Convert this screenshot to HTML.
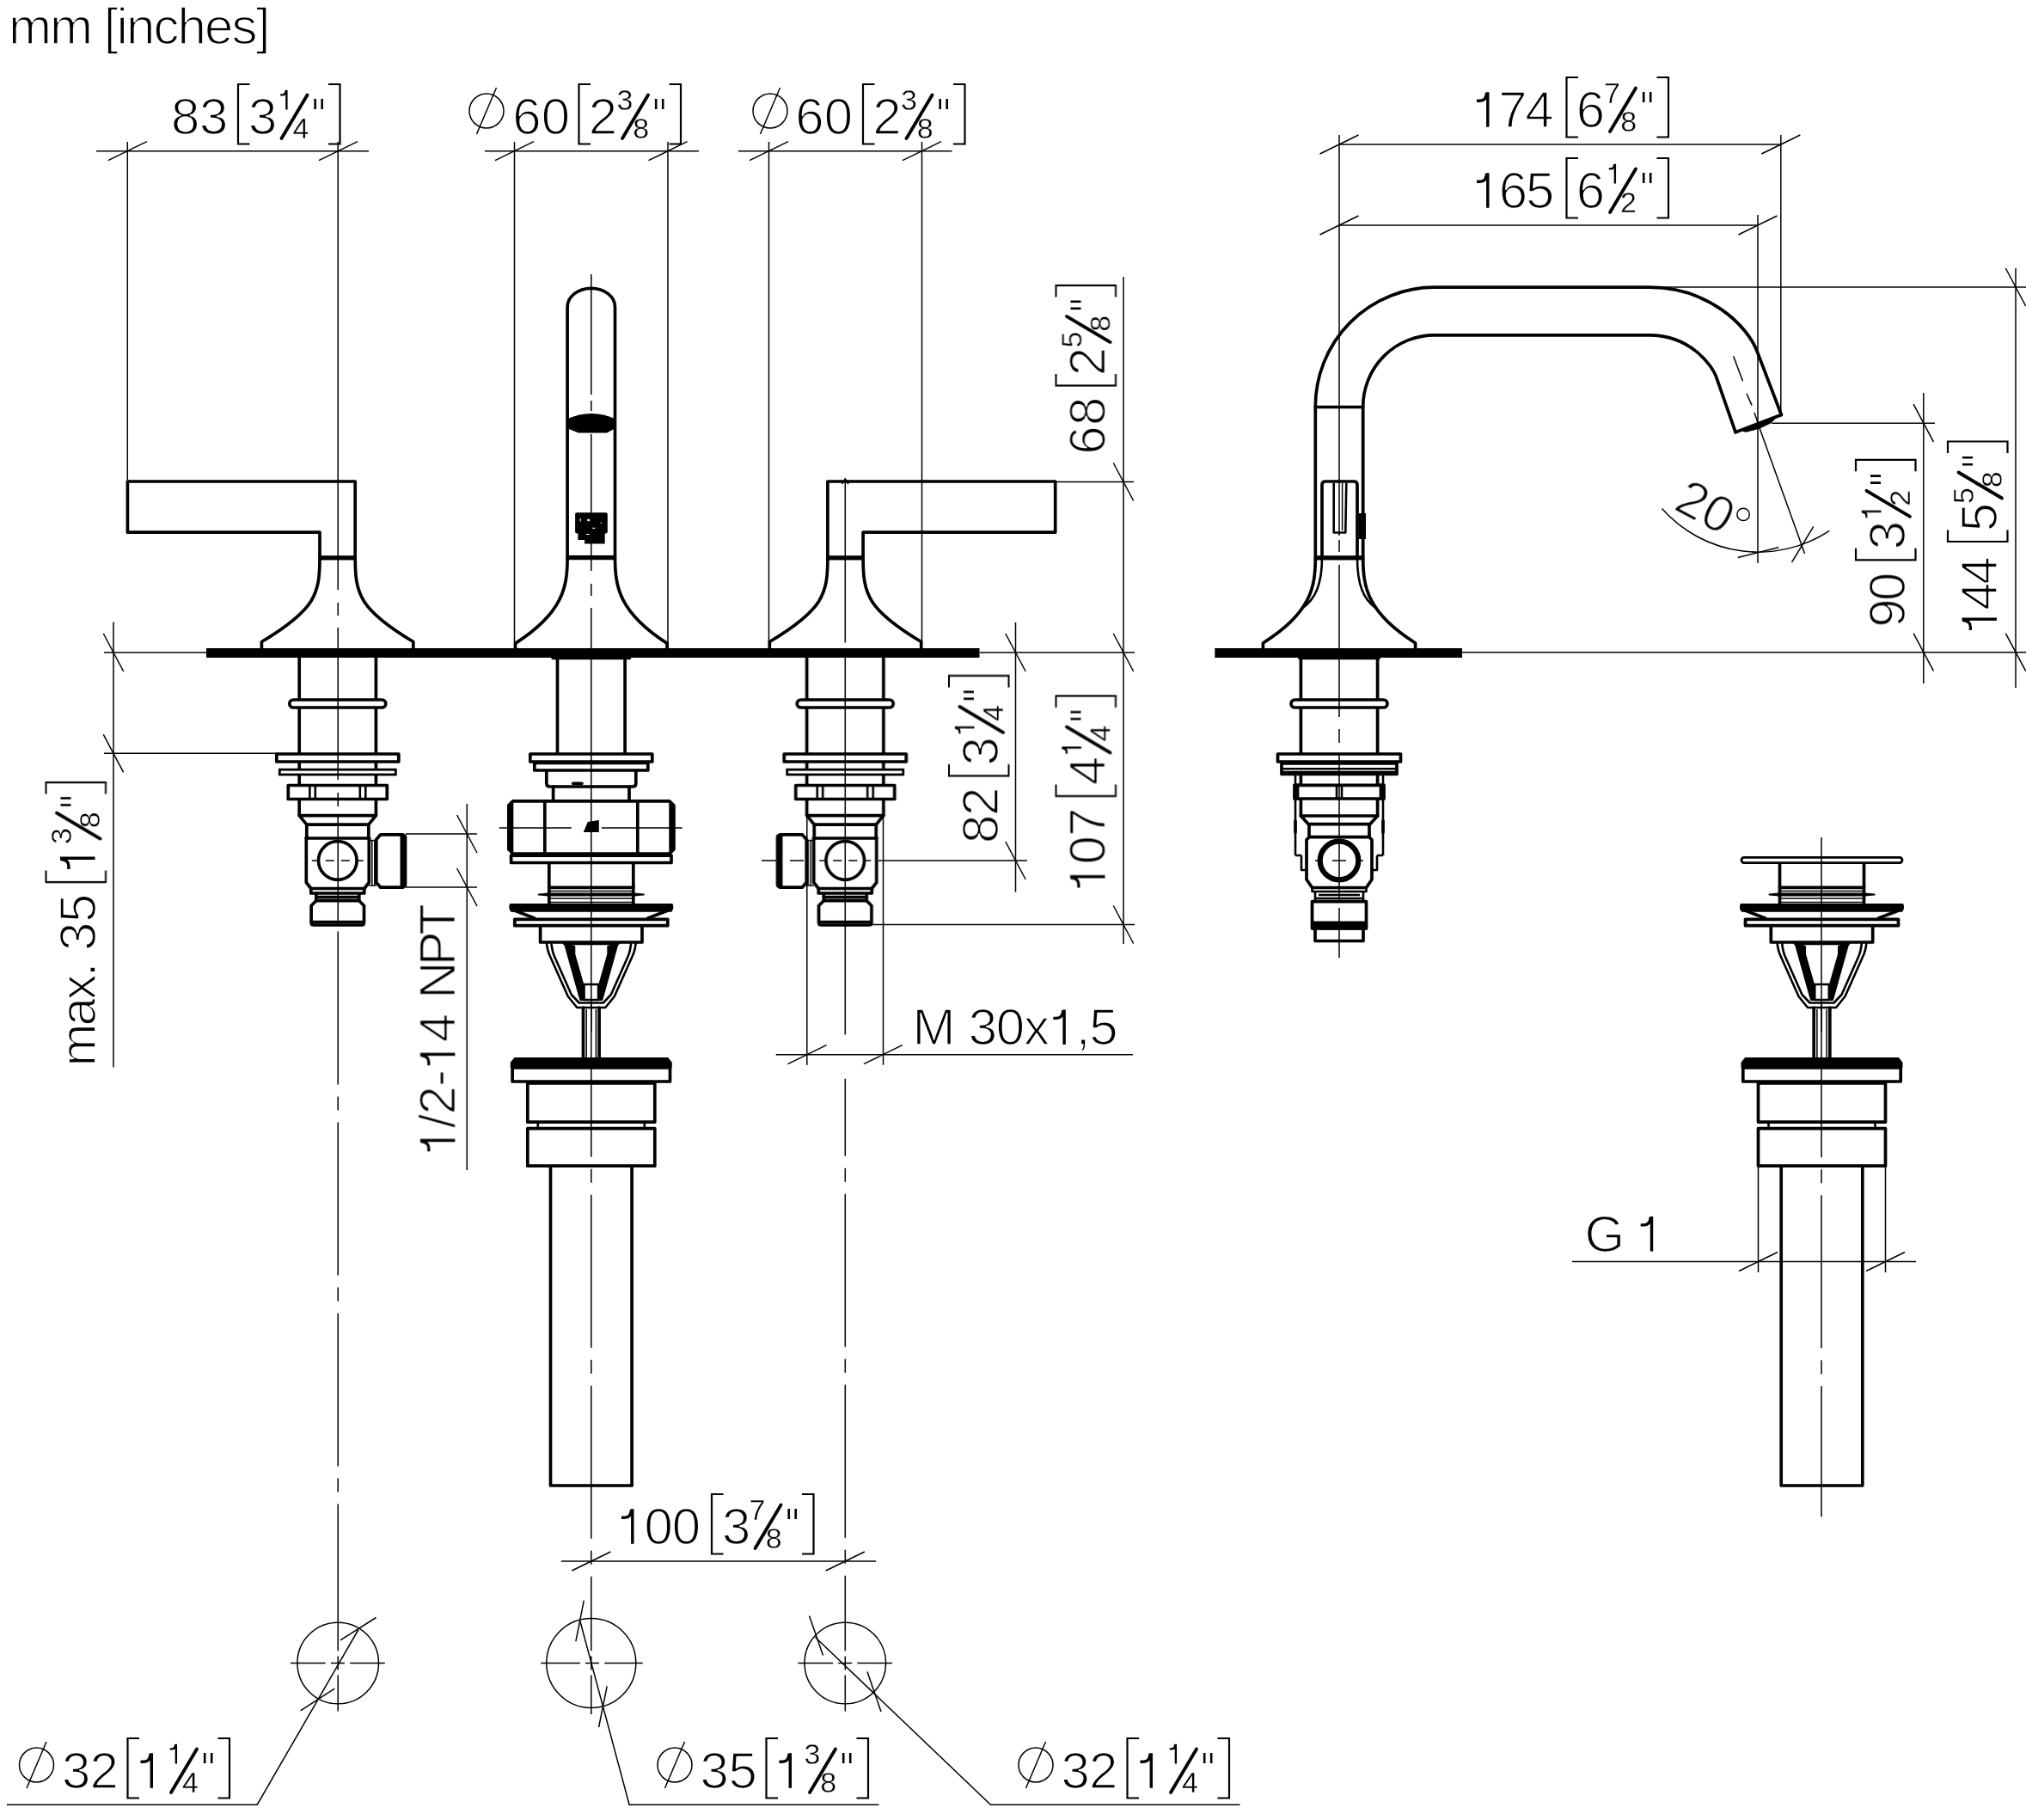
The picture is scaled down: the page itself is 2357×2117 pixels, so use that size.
<!DOCTYPE html>
<html><head><meta charset="utf-8"><title>drawing</title>
<style>
html,body{margin:0;padding:0;background:#fff}
svg{display:block;font-family:"Liberation Sans",sans-serif}
text{fill:#000;stroke:#fff;stroke-linejoin:round}
path,rect,circle{fill:none;stroke:#000}
.t{stroke-width:1.5}
.b{stroke-width:2.2}
.q{stroke-width:2.6}
.s{stroke-width:3.8;stroke-linecap:round}
.k{stroke-width:3.7;stroke-linejoin:round;stroke-linecap:round}
.kw{stroke-width:3.7;fill:#fff;stroke-linejoin:round}
.k3{stroke-width:2.6;stroke-linejoin:round}
.k3w{stroke-width:2.8;fill:#fff}
.k5{stroke-width:5.2}
.k6{stroke-width:6.2}
.f{fill:#000;stroke:none}
.fk{fill:#000;stroke-width:1.5;stroke-linejoin:round}
.fk1{fill:#000;stroke-width:2;stroke-linejoin:round}
.w{fill:#fff;stroke:none}
.one{stroke-linejoin:round}
</style></head>
<body>
<svg width="2357" height="2117" viewBox="0 0 2357 2117">
<rect x="0" y="0" width="2357" height="2117" style="fill:#fff;stroke:none"/>
<g style="opacity:.999">
<g transform="translate(202.5,155)"><text x="-3.41" y="0.8" font-size="60" stroke-width="1.6" letter-spacing="-0.39">83</text><text x="86.41" y="0.8" font-size="60" stroke-width="1.6">3</text><path class="one" transform="translate(120.58,-27.5) scale(0.56)" stroke-width="4.26" d="M5.6,-30.6H9.5C14.3,-30.6 16.8,-33.5 17.2,-40M18.4,-40.6V0"/><text x="138.02" y="5.5" font-size="34" stroke-width="0.4">4</text></g>
<g transform="translate(600,155)"><text x="-3.85" y="0.8" font-size="60" stroke-width="1.6" letter-spacing="0.25">60</text><text x="84.68" y="0.8" font-size="60" stroke-width="1.6">2</text><text x="117.51" y="-27.5" font-size="34" stroke-width="0.4">3</text><text x="136.32" y="5.5" font-size="34" stroke-width="0.4">8</text></g>
<g transform="translate(929,155)"><text x="-3.85" y="0.8" font-size="60" stroke-width="1.6" letter-spacing="0.25">60</text><text x="86.18" y="0.8" font-size="60" stroke-width="1.6">2</text><text x="119.01" y="-27.5" font-size="34" stroke-width="0.4">3</text><text x="137.82" y="5.5" font-size="34" stroke-width="0.4">8</text></g>
<g transform="translate(1718,147)"><path class="one" transform="translate(-5.6,0.8) scale(1)" stroke-width="3.42" d="M5.6,-30.6H9.5C14.3,-30.6 16.8,-33.5 17.2,-40M18.4,-40.6V0"/><text x="25.29" y="0.8" font-size="60" stroke-width="1.6" letter-spacing="-2.47">74</text><text x="115.65" y="0.8" font-size="60" stroke-width="1.6">6</text><text x="148.06" y="-27.5" font-size="34" stroke-width="0.4">7</text><text x="167.32" y="5.5" font-size="34" stroke-width="0.4">8</text></g>
<g transform="translate(1718,241)"><path class="one" transform="translate(-5.6,0.8) scale(1)" stroke-width="3.42" d="M5.6,-30.6H9.5C14.3,-30.6 16.8,-33.5 17.2,-40M18.4,-40.6V0"/><text x="25.67" y="0.8" font-size="60" stroke-width="1.6" letter-spacing="-2.09">65</text><text x="115.65" y="0.8" font-size="60" stroke-width="1.6">6</text><path class="one" transform="translate(150.58,-27.5) scale(0.56)" stroke-width="4.26" d="M5.6,-30.6H9.5C14.3,-30.6 16.8,-33.5 17.2,-40M18.4,-40.6V0"/><text x="167.09" y="5.5" font-size="34" stroke-width="0.4">2</text></g>
<g transform="translate(723,1795)"><path class="one" transform="translate(-5.6,0.8) scale(1)" stroke-width="3.42" d="M5.6,-30.6H9.5C14.3,-30.6 16.8,-33.5 17.2,-40M18.4,-40.6V0"/><text x="26.58" y="0.8" font-size="60" stroke-width="1.6" letter-spacing="-1.18">00</text><text x="116.91" y="0.8" font-size="60" stroke-width="1.6">3</text><text x="148.56" y="-27.5" font-size="34" stroke-width="0.4">7</text><text x="167.82" y="5.5" font-size="34" stroke-width="0.4">8</text></g>
<g transform="translate(75,2079)"><text x="-3.09" y="0.8" font-size="60" stroke-width="1.6" letter-spacing="-0.84">32</text><path class="one" transform="translate(82.9,0.8) scale(1)" stroke-width="3.42" d="M5.6,-30.6H9.5C14.3,-30.6 16.8,-33.5 17.2,-40M18.4,-40.6V0"/><path class="one" transform="translate(119.58,-27.5) scale(0.56)" stroke-width="4.26" d="M5.6,-30.6H9.5C14.3,-30.6 16.8,-33.5 17.2,-40M18.4,-40.6V0"/><text x="137.02" y="5.5" font-size="34" stroke-width="0.4">4</text></g>
<g transform="translate(817.5,2079)"><text x="-3.09" y="0.8" font-size="60" stroke-width="1.6" letter-spacing="-0.33">35</text><path class="one" transform="translate(83.4,0.8) scale(1)" stroke-width="3.42" d="M5.6,-30.6H9.5C14.3,-30.6 16.8,-33.5 17.2,-40M18.4,-40.6V0"/><text x="118.01" y="-27.5" font-size="34" stroke-width="0.4">3</text><text x="136.82" y="5.5" font-size="34" stroke-width="0.4">8</text></g>
<g transform="translate(1237.5,2079)"><text x="-3.09" y="0.8" font-size="60" stroke-width="1.6" letter-spacing="-0.84">32</text><path class="one" transform="translate(83.4,0.8) scale(1)" stroke-width="3.42" d="M5.6,-30.6H9.5C14.3,-30.6 16.8,-33.5 17.2,-40M18.4,-40.6V0"/><path class="one" transform="translate(120.08,-27.5) scale(0.56)" stroke-width="4.26" d="M5.6,-30.6H9.5C14.3,-30.6 16.8,-33.5 17.2,-40M18.4,-40.6V0"/><text x="137.52" y="5.5" font-size="34" stroke-width="0.4">4</text></g>
<g transform="translate(1285.5,525) rotate(-90)"><text x="-3.85" y="0" font-size="60" stroke-width="1.6" letter-spacing="0.52">68</text><text x="87.68" y="0" font-size="60" stroke-width="1.6">2</text><text x="120.44" y="-27.5" font-size="34" stroke-width="0.4">5</text><text x="139.32" y="5.5" font-size="34" stroke-width="0.4">8</text></g>
<g transform="translate(1161,977.5) rotate(-90)"><text x="-3.41" y="0" font-size="60" stroke-width="1.6" letter-spacing="-1.51">82</text><text x="86.91" y="0" font-size="60" stroke-width="1.6">3</text><path class="one" transform="translate(121.08,-27.5) scale(0.56)" stroke-width="4.26" d="M5.6,-30.6H9.5C14.3,-30.6 16.8,-33.5 17.2,-40M18.4,-40.6V0"/><text x="138.52" y="5.5" font-size="34" stroke-width="0.4">4</text></g>
<g transform="translate(1285.5,1032.5) rotate(-90)"><path class="one" transform="translate(-5.6,0) scale(1)" stroke-width="3.42" d="M5.6,-30.6H9.5C14.3,-30.6 16.8,-33.5 17.2,-40M18.4,-40.6V0"/><text x="26.92" y="0" font-size="60" stroke-width="1.6" letter-spacing="-0.84">07</text><text x="119.32" y="0" font-size="60" stroke-width="1.6">4</text><path class="one" transform="translate(152.58,-27.5) scale(0.56)" stroke-width="4.26" d="M5.6,-30.6H9.5C14.3,-30.6 16.8,-33.5 17.2,-40M18.4,-40.6V0"/><text x="170.02" y="5.5" font-size="34" stroke-width="0.4">4</text></g>
<g transform="translate(2216,726.3) rotate(-90)"><text x="-3.61" y="0" font-size="60" stroke-width="1.6" letter-spacing="-2.48">90</text><text x="86.91" y="0" font-size="60" stroke-width="1.6">3</text><path class="one" transform="translate(121.08,-27.5) scale(0.56)" stroke-width="4.26" d="M5.6,-30.6H9.5C14.3,-30.6 16.8,-33.5 17.2,-40M18.4,-40.6V0"/><text x="137.59" y="5.5" font-size="34" stroke-width="0.4">2</text></g>
<g transform="translate(2323,733) rotate(-90)"><path class="one" transform="translate(-5.6,0) scale(1)" stroke-width="3.42" d="M5.6,-30.6H9.5C14.3,-30.6 16.8,-33.5 17.2,-40M18.4,-40.6V0"/><text x="23.29" y="0" font-size="60" stroke-width="1.6" letter-spacing="-4.47">44</text><text x="114.8" y="0" font-size="60" stroke-width="1.6">5</text><text x="146.94" y="-27.5" font-size="34" stroke-width="0.4">5</text><text x="165.82" y="5.5" font-size="34" stroke-width="0.4">8</text></g>
<g transform="translate(110.5,1102.9) rotate(-90)"><text x="-137.58" y="0" font-size="60" stroke-width="1.6" letter-spacing="-3.05">max.</text><text x="-3.09" y="0" font-size="60" stroke-width="1.6" letter-spacing="-0.43">35</text><path class="one" transform="translate(86.2,0) scale(1)" stroke-width="3.42" d="M5.6,-30.6H9.5C14.3,-30.6 16.8,-33.5 17.2,-40M18.4,-40.6V0"/><text x="120.81" y="-27.5" font-size="34" stroke-width="0.4">3</text><text x="139.62" y="5.5" font-size="34" stroke-width="0.4">8</text></g>
<text x="9.92" y="50.8" font-size="60" stroke-width="1.6" letter-spacing="-1.9">mm [inches]</text>
<text x="1061.58" y="1215" font-size="60" stroke-width="1.6">M</text>
<text x="1126.71" y="1215" font-size="60" stroke-width="1.6" letter-spacing="-1.25">30x</text>
<path class="one" transform="translate(1219.71,1215) scale(1)" stroke-width="3.42" d="M5.6,-30.6H9.5C14.3,-30.6 16.8,-33.5 17.2,-40M18.4,-40.6V0"/>
<text x="1251.83" y="1215" font-size="60" stroke-width="1.6" letter-spacing="-1.25">,5</text>
<text x="1843.48" y="1455.5" font-size="60" stroke-width="1.6">G</text>
<path class="one" transform="translate(1903.1,1455.5) scale(1)" stroke-width="3.42" d="M5.6,-30.6H9.5C14.3,-30.6 16.8,-33.5 17.2,-40M18.4,-40.6V0"/>
<g transform="translate(529.4,1339.3) rotate(-90)">
<path class="one" transform="translate(-5.6,0) scale(1)" stroke-width="3.42" d="M5.6,-30.6H9.5C14.3,-30.6 16.8,-33.5 17.2,-40M18.4,-40.6V0"/>
<text x="26.95" y="0" font-size="60" stroke-width="1.6" letter-spacing="-0.81">/2-</text>
<path class="one" transform="translate(94.53,0) scale(1)" stroke-width="3.42" d="M5.6,-30.6H9.5C14.3,-30.6 16.8,-33.5 17.2,-40M18.4,-40.6V0"/>
<text x="127.09" y="0" font-size="60" stroke-width="1.6" letter-spacing="-0.81">4</text>
<text x="177.38" y="0" font-size="60" stroke-width="1.6" letter-spacing="-4.65">NPT</text>
</g>
<g transform="translate(1948.5,593.5) rotate(28)">
<text x="-3.82" y="0" font-size="60" stroke-width="1.6" letter-spacing="0.22">20</text>
</g>
</g>
<g>
<g transform="translate(202.5,155)"><path class="b" d="M88,-57H74.5V12.5H88"/><path class="b" d="M179.5,-57H193V12.5H179.5"/><path class="s" d="M125,6L155,-44.5"/><path class="q" d="M164.2,-40V-28M172.2,-40V-28"/></g>
<g transform="translate(600,155)"><path class="b" d="M87,-57H73.5V12.5H87"/><path class="b" d="M178.5,-57H192V12.5H178.5"/><path class="s" d="M124,6L154,-44.5"/><path class="q" d="M163.2,-40V-28M171.2,-40V-28"/><circle class="t" cx="-34" cy="-26" r="20"/><path class="t" d="M-45.5,1L-22.5,-53"/></g>
<g transform="translate(929,155)"><path class="b" d="M88.5,-57H75V12.5H88.5"/><path class="b" d="M180,-57H193.5V12.5H180"/><path class="s" d="M125.5,6L155.5,-44.5"/><path class="q" d="M164.7,-40V-28M172.7,-40V-28"/><circle class="t" cx="-33" cy="-26" r="20"/><path class="t" d="M-44.5,1L-21.5,-53"/></g>
<g transform="translate(1718,147)"><path class="b" d="M118,-57H104.5V12.5H118"/><path class="b" d="M209.5,-57H223V12.5H209.5"/><path class="s" d="M155,6L185,-44.5"/><path class="q" d="M194.2,-40V-28M202.2,-40V-28"/></g>
<g transform="translate(1718,241)"><path class="b" d="M118,-57H104.5V12.5H118"/><path class="b" d="M209.5,-57H223V12.5H209.5"/><path class="s" d="M155,6L185,-44.5"/><path class="q" d="M194.2,-40V-28M202.2,-40V-28"/></g>
<g transform="translate(723,1795)"><path class="b" d="M118.5,-57H105V12.5H118.5"/><path class="b" d="M210,-57H223.5V12.5H210"/><path class="s" d="M155.5,6L185.5,-44.5"/><path class="q" d="M194.7,-40V-28M202.7,-40V-28"/></g>
<g transform="translate(75,2079)"><path class="b" d="M87,-57H73.5V12.5H87"/><path class="b" d="M178.5,-57H192V12.5H178.5"/><path class="s" d="M124,6L154,-44.5"/><path class="q" d="M163.2,-40V-28M171.2,-40V-28"/><circle class="t" cx="-32.5" cy="-26" r="20"/><path class="t" d="M-44,1L-21,-53"/></g>
<g transform="translate(817.5,2079)"><path class="b" d="M87.5,-57H74V12.5H87.5"/><path class="b" d="M179,-57H192.5V12.5H179"/><path class="s" d="M124.5,6L154.5,-44.5"/><path class="q" d="M163.7,-40V-28M171.7,-40V-28"/><circle class="t" cx="-32.5" cy="-26" r="20"/><path class="t" d="M-44,1L-21,-53"/></g>
<g transform="translate(1237.5,2079)"><path class="b" d="M87.5,-57H74V12.5H87.5"/><path class="b" d="M179,-57H192.5V12.5H179"/><path class="s" d="M124.5,6L154.5,-44.5"/><path class="q" d="M163.7,-40V-28M171.7,-40V-28"/><circle class="t" cx="-32.5" cy="-26" r="20"/><path class="t" d="M-44,1L-21,-53"/></g>
<g transform="translate(1285.5,525) rotate(-90)"><path class="b" d="M90,-57H76.5V12.5H90"/><path class="b" d="M179.5,-57H193V12.5H179.5"/><path class="s" d="M127,6L157,-44.5"/><path class="q" d="M166.2,-40V-28M174.2,-40V-28"/></g>
<g transform="translate(1161,977.5) rotate(-90)"><path class="b" d="M88.5,-57H75V12.5H88.5"/><path class="b" d="M178,-57H191.5V12.5H178"/><path class="s" d="M125.5,6L155.5,-44.5"/><path class="q" d="M164.7,-40V-28M172.7,-40V-28"/></g>
<g transform="translate(1285.5,1032.5) rotate(-90)"><path class="b" d="M120,-57H106.5V12.5H120"/><path class="b" d="M209.5,-57H223V12.5H209.5"/><path class="s" d="M157,6L187,-44.5"/><path class="q" d="M196.2,-40V-28M204.2,-40V-28"/></g>
<g transform="translate(2216,726.3) rotate(-90)"><path class="b" d="M88.5,-57H75V12.5H88.5"/><path class="b" d="M178,-57H191.5V12.5H178"/><path class="s" d="M125.5,6L155.5,-44.5"/><path class="q" d="M164.7,-40V-28M172.7,-40V-28"/></g>
<g transform="translate(2323,733) rotate(-90)"><path class="b" d="M116.5,-57H103V12.5H116.5"/><path class="b" d="M206,-57H219.5V12.5H206"/><path class="s" d="M153.5,6L183.5,-44.5"/><path class="q" d="M192.7,-40V-28M200.7,-40V-28"/></g>
<g transform="translate(110.5,1102.9) rotate(-90)"><path class="b" d="M90.3,-57H76.8V12.5H90.3"/><path class="b" d="M179.3,-57H192.8V12.5H179.3"/><path class="s" d="M127.3,6L157.3,-44.5"/><path class="q" d="M166.5,-40V-28M174.5,-40V-28"/></g>
<circle class="t" cx="2028.1" cy="598.4" r="7.2"/>
<rect class="f" x="240" y="754" width="899.5" height="11"/>
<rect class="f" x="1413.3" y="754" width="287.7" height="11"/>
<g transform="translate(392.6,0) scale(1,1)"><path class="k" d="M-20.6,648.8V619.2H-244.2V560H20.6V648.8"/><path class="k5" d="M-20.6,648.8H20.6"/><path class="k" d="M-20.6,649C-20.6,691 -25.6,709 -88.2,746.5V755"/><path class="k" d="M20.6,649C20.6,691 25.6,709 88.2,746.5V755"/></g>
<g transform="translate(983.5,0) scale(-1,1)"><path class="k" d="M-20.6,648.8V619.2H-244.2V560H20.6V648.8"/><path class="k5" d="M-20.6,648.8H20.6"/><path class="k" d="M-20.6,649C-20.6,691 -25.6,709 -88.2,746.5V755"/><path class="k" d="M20.6,649C20.6,691 25.6,709 88.2,746.5V755"/></g>
<path class="k" d="M660.1,648.7V357A27.7,21.7 0 0 1 715.5,357V648.7"/>
<path class="k5" d="M660.1,648.7H715.5"/>
<path class="k" d="M660.1,648.7C660.1,682.7 655.1,712.7 599.5,748.4V755"/>
<path class="k" d="M715.5,648.7C715.5,682.7 720.5,712.7 776.1,748.4V755"/>
<path class="f" d="M660.5,487Q674,481 688,481Q702,481 715.3,487V498.5L706,503.6H673L660.5,498.5Z"/>
<rect class="f" x="669.1" y="596.3" width="37.7" height="24.3" rx="2"/>
<path class="f" d="M672.4,620H703.7V632.5H680.1V628.1H672.4Z"/>
<path class="w" d="M674.7,603H675.8V606.6H674.7ZM683.3,603.7H686V606.3H683.3ZM698.7,607.7H700V609H698.7ZM689.3,613.8H692V614.9H689.3ZM682,621H685.5V621.9H682Z"/>
<g transform="translate(392.8,0) scale(1,1)"><path class="k" d="M-44.6,765V948.6M44.6,765V948.6"/><rect class="kw" x="-56" y="814" width="112" height="9" rx="4.5"/><rect class="kw" x="-71" y="877" width="142" height="9"/><rect class="k3w" x="-67.5" y="895.2" width="135" height="5.8"/><rect class="kw" x="-57.5" y="913.5" width="115" height="16"/><path class="k3" d="M-32.5,913.5V929.5M-26,913.5V929.5M26,913.5V929.5M32.5,913.5V929.5"/><path class="k" d="M-44.6,948.6H44.6M-44.6,948.6L-36,959.2H36L44.6,948.6M-36,959.2V975M36,959.2V975"/><path class="k" d="M-37,975H37M-36.5,975V1026.5L-31,1033.5H31L36.5,1026.5V975"/><circle class="k" cx="0" cy="1001" r="22.3"/><path class="t" d="M-30,1001H-21M-14,1001H-4M4,1001H14M21,1001H30"/><path class="k" d="M-31,1033.5V1039H31V1033.5M-25,1039V1047.7M25,1039V1047.7M-25,1043.5H25M-25,1047.7H25"/><path class="k" d="M-25,1047.7L-30.7,1053.5V1073Q-30.7,1076 -27.7,1076H27.7Q30.7,1076 30.7,1073V1053.5L25,1047.7"/><path class="k" d="M-30,1072.5H30"/><path class="t" d="M36.5,977.5H45M36.5,1030H45M40,977.5V1030M43,977.5V1030"/><path class="k" d="M45,976.5L50,970.8H76V1032.2H50L45,1026.5Z"/><path class="fk" d="M73.5,970.8H76.5Q79.8,970.8 79.8,974V1029Q79.8,1032.2 76.5,1032.2H73.5Z"/></g>
<g transform="translate(983.3,0) scale(-1,1)"><path class="k" d="M-44.6,765V948.6M44.6,765V948.6"/><rect class="kw" x="-56" y="814" width="112" height="9" rx="4.5"/><rect class="kw" x="-71" y="877" width="142" height="9"/><rect class="k3w" x="-67.5" y="895.2" width="135" height="5.8"/><rect class="kw" x="-57.5" y="913.5" width="115" height="16"/><path class="k3" d="M-32.5,913.5V929.5M-26,913.5V929.5M26,913.5V929.5M32.5,913.5V929.5"/><path class="k" d="M-44.6,948.6H44.6M-44.6,948.6L-36,959.2H36L44.6,948.6M-36,959.2V975M36,959.2V975"/><path class="k" d="M-37,975H37M-36.5,975V1026.5L-31,1033.5H31L36.5,1026.5V975"/><circle class="k" cx="0" cy="1001" r="22.3"/><path class="t" d="M-30,1001H-21M-14,1001H-4M4,1001H14M21,1001H30"/><path class="k" d="M-31,1033.5V1039H31V1033.5M-25,1039V1047.7M25,1039V1047.7M-25,1043.5H25M-25,1047.7H25"/><path class="k" d="M-25,1047.7L-30.7,1053.5V1073Q-30.7,1076 -27.7,1076H27.7Q30.7,1076 30.7,1073V1053.5L25,1047.7"/><path class="k" d="M-30,1072.5H30"/><path class="t" d="M36.5,977.5H45M36.5,1030H45M40,977.5V1030M43,977.5V1030"/><path class="k" d="M45,976.5L50,970.8H76V1032.2H50L45,1026.5Z"/><path class="fk" d="M73.5,970.8H76.5Q79.8,970.8 79.8,974V1029Q79.8,1032.2 76.5,1032.2H73.5Z"/></g>
<g transform="translate(687.8,0)"><path class="k" d="M-44.5,765.5H44.5"/><path class="k" d="M-39.3,765V877M39.3,765V877"/><rect class="kw" x="-71" y="877" width="142" height="9"/><rect class="kw" x="-66" y="887.5" width="132" height="8.5"/><path class="k" d="M-52,897.5V911Q-52,915 -48,915H48Q52,915 52,911V897.5"/><path class="k" d="M-44.2,915V931M44.2,915V931"/><path class="k" d="M-91,931.8H91L96,936.8V988L91,993H-91L-96,988V936.8Z"/><path class="f" d="M-94,933L-97.6,937V988L-94,992H-90.5V933Z"/><path class="f" d="M94,933L97.6,937V988L94,992H90.5V933Z"/><path class="k" d="M-54,931.8V993M54,931.8V993"/><path class="t" d="M-107,963H-23M12,963H106"/><path class="f" d="M-9,968L-4,956L9,954V968Z"/><path class="k" d="M-21,911.3H-11"/><rect class="kw" x="-93.2" y="995" width="186.4" height="8.5"/><path class="k5" d="M-93,994.5H93"/></g>
<g transform="translate(687.8,0)"><path class="k" d="M-49,1005V1052M49,1005V1052"/><path class="k" d="M-49,1032.3H49"/><path class="t" d="M-49,1036.5H49M-49,1045H49M-49,1049.5H49"/><path class="fk1" d="M-61,1040.6L-50,1039.6H50L61,1040.6L50,1041.6H-50Z"/><path class="fk1" d="M-94,1052H94Q95.5,1056 93,1059.8H-93Q-95.5,1056 -94,1052Z"/><path class="k" d="M-92,1058L-66,1068M92,1058L66,1068"/><rect class="kw" x="-89" y="1069.3" width="178" height="7.4"/><path class="k" d="M-59.2,1077V1096H59.2V1077"/><path class="k3" d="M-52,1096Q-51,1106 -48,1112L-27,1159L-16.5,1172H16.5L27,1159L48,1112Q51,1106 52,1096"/><path class="k3" d="M-46.5,1096Q-45.5,1106 -43,1112L-23,1157L-14,1166.5H14L23,1157L43,1112Q45.5,1106 46.5,1096"/><path class="fk1" d="M-31,1097L-19.5,1101V1110L-9.5,1145L-8.3,1163H-12.5Z"/><path class="fk1" d="M31,1097L19.5,1101V1110L9.5,1145L8.3,1163H12.5Z"/><path class="k" d="M-31,1097.5H31"/><path class="k3" d="M-8.3,1145H8.3V1163H-8.3Z"/><path class="k" d="M-9.3,1172V1231M9.3,1172V1231"/><path class="t" d="M-5.6,1174V1231M5.6,1174V1231"/><path class="fk1" d="M-89,1231H89L93,1236V1241.5H-93V1236Z"/><rect class="kw" x="-91.7" y="1242" width="183.4" height="16"/><rect class="kw" x="-74" y="1259.8" width="148" height="45.4"/><path class="k3" d="M-62,1307V1311M62,1307V1311"/><rect class="kw" x="-74" y="1312.6" width="148" height="43.6"/><path class="k" d="M-47.3,1358V1728H47.3V1358"/></g>
<g transform="translate(2119.5,0)"><rect class="k3w" x="-93.5" y="997.3" width="187" height="6.3" rx="3"/><path class="k" d="M-49,1005V1052M49,1005V1052"/><path class="k" d="M-49,1032.3H49"/><path class="t" d="M-49,1036.5H49M-49,1045H49M-49,1049.5H49"/><path class="fk1" d="M-61,1040.6L-50,1039.6H50L61,1040.6L50,1041.6H-50Z"/><path class="fk1" d="M-94,1052H94Q95.5,1056 93,1059.8H-93Q-95.5,1056 -94,1052Z"/><path class="k" d="M-92,1058L-66,1068M92,1058L66,1068"/><rect class="kw" x="-89" y="1069.3" width="178" height="7.4"/><path class="k" d="M-59.2,1077V1096H59.2V1077"/><path class="k3" d="M-52,1096Q-51,1106 -48,1112L-27,1159L-16.5,1172H16.5L27,1159L48,1112Q51,1106 52,1096"/><path class="k3" d="M-46.5,1096Q-45.5,1106 -43,1112L-23,1157L-14,1166.5H14L23,1157L43,1112Q45.5,1106 46.5,1096"/><path class="fk1" d="M-31,1097L-19.5,1101V1110L-9.5,1145L-8.3,1163H-12.5Z"/><path class="fk1" d="M31,1097L19.5,1101V1110L9.5,1145L8.3,1163H12.5Z"/><path class="k" d="M-31,1097.5H31"/><path class="k3" d="M-8.3,1145H8.3V1163H-8.3Z"/><path class="k" d="M-9.3,1172V1231M9.3,1172V1231"/><path class="t" d="M-5.6,1174V1231M5.6,1174V1231"/><path class="fk1" d="M-89,1231H89L93,1236V1241.5H-93V1236Z"/><rect class="kw" x="-91.7" y="1242" width="183.4" height="16"/><rect class="kw" x="-74" y="1259.8" width="148" height="45.4"/><path class="k3" d="M-62,1307V1311M62,1307V1311"/><rect class="kw" x="-74" y="1312.6" width="148" height="43.6"/><path class="k" d="M-47.3,1358V1728H47.3V1358"/></g>
<path class="k" d="M1530.3,648.8V473A138.8,138.8 0 0 1 1669.1,334.2H1919C1986.5,334.2 2033.2,377.9 2044.8,410.4L2072.4,482.5"/>
<path class="k" d="M1585.7,648.8V473A83.2,83.2 0 0 1 1668.9,389.8H1919C1966.5,389.8 1991.8,425 1996.7,438.6L2019.1,502.8"/>
<path class="k" d="M2019.1,502.8L2072.4,482.5"/>
<path class="fk" d="M2026,500.5L2046,492L2068,483.8L2060,491.5L2046,498.3L2031,502Z"/>
<path class="k" d="M1530.3,473.5H1585.7"/>
<path class="k5" d="M1530.3,648.8H1585.7"/>
<path class="k" d="M1538,648.8V564Q1538,560 1542,560H1575Q1579,560 1579,564V648.8"/>
<path class="k3" d="M1551.7,562V619.5H1565.3L1566.3,562"/>
<path class="t" d="M1561.6,562V617"/>
<path class="f" d="M1580.5,597H1589V627H1580.5Z"/>
<path class="k" d="M1530.3,648.8C1530.3,682.8 1525.3,712.8 1469.4,748V755"/>
<path class="k" d="M1585.7,648.8C1585.7,682.8 1590.7,712.8 1646.6,748V755"/>
<path class="k3" d="M1538,648.8C1538,680 1530,697 1514.9,707.6"/>
<path class="k3" d="M1579,648.8C1579,680 1586,697 1601.1,707.6"/>
<path class="t" d="M2016.6,414.3L2027.5,443.2M2032,457.8L2038,471.4M2041,480L2044.8,491"/>
<g transform="translate(1558,0)"><path class="k" d="M-46,765.5H46"/><path class="k" d="M-44.6,765V949M44.6,765V949"/><rect class="kw" x="-56" y="814" width="112" height="9" rx="4.5"/><rect class="kw" x="-71.5" y="877" width="143" height="9"/><rect class="kw" x="-67" y="888" width="134" height="12.5"/><path class="k3" d="M-67,894.3H67M-67,898H67"/><path class="k3" d="M-51,902V995M51,902V995"/><rect class="kw" x="-52" y="913.3" width="104" height="15.7"/><path class="k" d="M-51.5,913V929M-48.5,913V929M51.5,913V929M48.5,913V929"/><path class="k3" d="M-3,913V929M3,913V929"/><path class="k" d="M-44.6,949H44.6M-44.6,949L-36,958.6H36L44.6,949M-35,958.6V973.6M35,958.6V973.6"/><path class="k" d="M-35,973.6H35L38,977V1023L31.5,1032.5H-31.5L-38,1023V977Z"/><circle class="k6" cx="0" cy="1001" r="22.3"/><path class="t" d="M-28,1001H-20M-8,1001H8M20,1001H28"/><path class="k" d="M-51,955V968M51,955V968"/><path class="k3" d="M-44,995V1012H-38M44,995V1012H38M-51,995H-44M51,995H44"/><path class="k3" d="M-31.5,1032.5V1037H31.5V1032.5M-28,1037V1048.6M28,1037V1048.6M-24,1041H24M-28,1045H28"/><path class="k" d="M-31.5,1048.6H31.5V1080H-31.5Z"/><path class="fk1" d="M-31.5,1072.5H31.5V1080.5H-31.5Z"/><path class="k" d="M-28,1081V1094.5H28V1081"/></g>
<path class="t" d="M112,175.7L429,175.7"/>
<path class="t" d="M125.8,186.7L170.8,164.7"/>
<path class="t" d="M371,186.7L416,164.7"/>
<path class="t" d="M148.3,165L148.3,558"/>
<path class="t" d="M564,175.7L813,175.7"/>
<path class="t" d="M576,186.7L621,164.7"/>
<path class="t" d="M754.5,186.7L799.5,164.7"/>
<path class="t" d="M598.5,165L598.5,748"/>
<path class="t" d="M777,165L777,748"/>
<path class="t" d="M859,175.7L1107.5,175.7"/>
<path class="t" d="M872,186.7L917,164.7"/>
<path class="t" d="M1050,186.7L1095,164.7"/>
<path class="t" d="M894.5,165L894.5,748"/>
<path class="t" d="M1072.5,165L1072.5,748"/>
<path class="t" d="M1307,322L1307,1098"/>
<path class="t" d="M1295.3,538.5L1318.7,582.5"/>
<path class="t" d="M1295.3,737L1318.7,781"/>
<path class="t" d="M1295.3,1053.5L1318.7,1097.5"/>
<path class="t" d="M1229,560.5L1319,560.5"/>
<path class="t" d="M1139.5,759L1320,759"/>
<path class="t" d="M1015,1075.5L1320,1075.5"/>
<path class="t" d="M1181.5,724L1181.5,1037.5"/>
<path class="t" d="M1169.8,737L1193.2,781"/>
<path class="t" d="M1169.8,979L1193.2,1023"/>
<path class="t" d="M1022,1001L1195,1001"/>
<path class="t" d="M132,723.5L132,1241.5"/>
<path class="t" d="M120.3,737L143.7,781"/>
<path class="t" d="M120.3,854.3L143.7,898.3"/>
<path class="t" d="M121,759L240,759"/>
<path class="t" d="M121,876.3L322,876.3"/>
<path class="t" d="M543.3,935L543.3,1361"/>
<path class="t" d="M531.6,948L555,992"/>
<path class="t" d="M531.6,1010L555,1054"/>
<path class="t" d="M472,970L555,970"/>
<path class="t" d="M472,1032L555,1032"/>
<path class="t" d="M902.7,1226.7L1318,1226.7"/>
<path class="t" d="M916.5,1237.7L961.5,1215.7"/>
<path class="t" d="M1004.8,1237.7L1049.8,1215.7"/>
<path class="t" d="M938.8,950L938.8,1238.8"/>
<path class="t" d="M1027.5,950L1027.5,1238.8"/>
<path class="t" d="M653,1816L1019,1816"/>
<path class="t" d="M665.3,1827L710.3,1805"/>
<path class="t" d="M960.8,1827L1005.8,1805"/>
<path class="t" d="M1829,1467.5L2229,1467.5"/>
<path class="t" d="M2023,1478.5L2068,1456.5"/>
<path class="t" d="M2171,1478.5L2216,1456.5"/>
<path class="t" d="M2045.5,1358L2045.5,1480"/>
<path class="t" d="M2193.5,1358L2193.5,1480"/>
<path class="t" d="M1558,168L2071.8,168"/>
<path class="t" d="M1535.5,179L1580.5,157"/>
<path class="t" d="M2049.3,179L2094.3,157"/>
<path class="t" d="M1558,262L2045,262"/>
<path class="t" d="M1535.5,273L1580.5,251"/>
<path class="t" d="M2022.5,273L2067.5,251"/>
<path class="t" d="M2071.8,157L2071.8,483"/>
<path class="t" d="M2045,250L2045,655"/>
<path class="t" d="M1925,334L2357,334"/>
<path class="t" d="M2061,492.2L2251,492.2"/>
<path class="t" d="M1701,758.7L2357,758.7"/>
<path class="t" d="M2237.8,457L2237.8,795"/>
<path class="t" d="M2226.1,470.2L2249.5,514.2"/>
<path class="t" d="M2226.1,736.7L2249.5,780.7"/>
<path class="t" d="M2345,312L2345,800"/>
<path class="t" d="M2333.3,312L2356.7,356"/>
<path class="t" d="M2333.3,736.7L2356.7,780.7"/>
<path class="t" d="M2045,492.2L2099.6,644"/>
<path class="t" d="M1933.4,591.6A150,150 0 0 0 2128.3,617.3"/>
<path class="t" d="M2021.8,648.4L2069.2,636.7"/>
<path class="t" d="M2084.5,654.1L2109.8,612.4"/>
<path class="t" d="M393.2,165V686M393.2,701V716M393.2,730V907M393.2,922V938M393.2,949V1077" />
<path class="t" d="M393.2,1083.6V1920.2" stroke-dasharray="178 14 16 14"/>
<path class="t" d="M393.2,1926.4V1942.4M393.2,1948.6V1990.5" />
<path class="t" d="M338,1934.5H378.7M384.9,1934.5H400.9M407.1,1934.5H447.8" />
<path class="t" d="M687.8,319V459M687.8,466V478M687.8,505V664M687.8,679V693M687.8,707V1200" />
<path class="t" d="M687.8,1167.7V1920.2" stroke-dasharray="178 14 16 14"/>
<path class="t" d="M687.8,1926.4V1942.4M687.8,1948.6V1994" />
<path class="t" d="M629.2,1934.5H674.9M681,1934.5H697M703.3,1934.5H747.7" />
<path class="t" d="M983.3,557V747.5M983.3,764V1203.6" />
<path class="t" d="M983.3,1254.8V1920.2" stroke-dasharray="178 14 16 14" stroke-dashoffset="88.1"/>
<path class="t" d="M983.3,1926.4V1942.4M983.3,1948.6V1990.5" />
<path class="t" d="M928.3,1934.5H969M975.2,1934.5H991.2M997.4,1934.5H1038" />
<path class="t" d="M979.5,563L983.3,557L987,563" />
<path class="t" d="M1558,157V623M1558,628V642M1558,657V834M1558,848V864M1558,877V1048M1558,1056V1114" />
<path class="t" d="M2119,974V1200" />
<path class="t" d="M2119,1168.3V1764.2" stroke-dasharray="178 14 16 14"/>
<path class="t" d="M886,1001H903M919,1001H935" />
<circle class="t" cx="393.2" cy="1934.5" r="47.3"/>
<circle class="t" cx="687.8" cy="1934.5" r="52"/>
<circle class="t" cx="983.3" cy="1934.5" r="47.3"/>
<path class="t" d="M417,1895.5L299.2,2099.2H8"/>
<path class="t" d="M396,1907.9L437.5,1881.5"/>
<path class="t" d="M349.6,1989.8L389.3,1964.1"/>
<path class="t" d="M674.9,1885.7L732.1,2099.2H1022.5"/>
<path class="t" d="M669.9,1909.1L679.3,1861.7"/>
<path class="t" d="M696.6,2009L706.2,1961.4"/>
<path class="t" d="M948.5,1904.5L1152.5,2099.2H1442.5"/>
<path class="t" d="M941.5,1879.5L957.5,1925.5"/>
<path class="t" d="M1009,1944.5L1025,1991"/>
</g>
</svg>
</body></html>
